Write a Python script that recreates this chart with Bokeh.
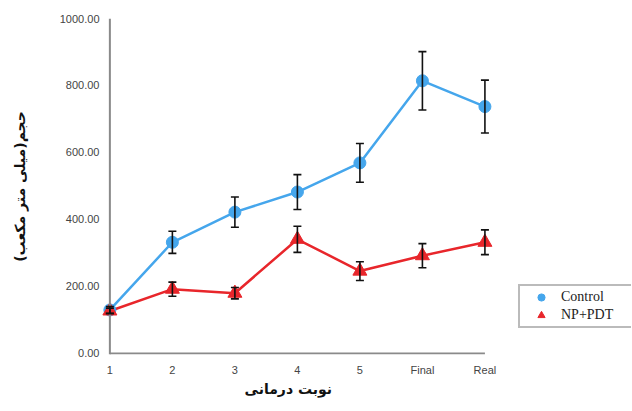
from bokeh.plotting import figure
from bokeh.models import (ColumnDataSource, Whisker, TeeHead, FixedTicker, Span,
                          Legend, LegendItem, Range1d, NumeralTickFormatter, Title)
from bokeh.embed import file_html
from bokeh.resources import INLINE

# ---- data ----
sessions = [1, 2, 3, 4, 5, 6, 7]
session_labels = ["1", "2", "3", "4", "5", "Final", "Real"]
control_mean = [130, 332, 422, 482, 569, 814, 737]
control_err = [10, 33, 45, 52, 58, 87, 79]
nppdt_mean = [127, 192, 180, 341, 246, 292, 332]
nppdt_err = [8, 21, 17, 39, 28, 36, 37]
y_ticks = [0, 200, 400, 600, 800, 1000]

BLUE = "#45a6ec"
RED = "#e8262b"
AXIS_GRAY = "#8a8a8a"


def make_source(mean, err):
    return ColumnDataSource(data=dict(
        x=sessions, y=mean,
        upper=[m + e for m, e in zip(mean, err)],
        lower=[m - e for m, e in zip(mean, err)],
    ))


src_c = make_source(control_mean, control_err)
src_n = make_source(nppdt_mean, nppdt_err)

# frame extends to the right edge so the legend can sit beside the data area
p = figure(width=631, height=406, output_backend="svg", toolbar_location=None,
           x_range=Range1d(0.85, 9.345), y_range=Range1d(-3, 1000),
           min_border_left=100, min_border_right=0, min_border_top=18,
           min_border_bottom=52)
p.outline_line_color = None
p.xgrid.visible = False
p.ygrid.visible = False
p.background_fill_color = "white"
p.border_fill_color = "white"

for ax in (p.xaxis[0], p.yaxis[0]):
    ax.axis_line_color = None
    ax.major_tick_line_color = None
    ax.minor_tick_line_color = None
    ax.major_tick_in = 0
    ax.major_tick_out = 0
    ax.major_label_text_font = "Liberation Sans"
    ax.major_label_text_font_size = "11px"
    ax.major_label_text_color = "#444444"
    ax.axis_label_text_font = "DejaVu Sans"
    ax.axis_label_text_font_style = "bold"
    ax.axis_label_text_color = "#111111"

p.xaxis.ticker = FixedTicker(ticks=sessions)
p.xaxis.major_label_overrides = {s: l for s, l in zip(sessions, session_labels)}
p.xaxis.major_label_standoff = 9

p.yaxis.ticker = FixedTicker(ticks=y_ticks)
p.yaxis.formatter = NumeralTickFormatter(format="0.00")
p.yaxis.major_label_standoff = 1
p.yaxis.axis_label = "حجم(میلی متر مکعب)"
p.yaxis.axis_label_text_font_size = "14px"
p.yaxis.axis_label_standoff = 29

# x axis title, placed under the data area
p.add_layout(Title(text="نوبت درمانی", align="left", offset=144, standoff=0,
                   text_font="DejaVu Sans", text_font_style="bold",
                   text_font_size="14px", text_color="#111111"), "below")

# axis lines
p.add_layout(Span(location=sessions[0], dimension="height", line_color=AXIS_GRAY, line_width=2))
p.segment(x0=[sessions[0]], y0=[y_ticks[0]], x1=[sessions[-1]], y1=[y_ticks[0]],
          line_color=AXIS_GRAY, line_width=2)

# lines
p.line("x", "y", source=src_c, line_color=BLUE, line_width=2.5)
p.line("x", "y", source=src_n, line_color=RED, line_width=2.5)

# markers
sc_c = p.scatter("x", "y", source=src_c, marker="circle", size=12,
                 fill_color=BLUE, line_color=BLUE)
sc_n = p.scatter("x", "y", source=src_n, marker="triangle", size=14,
                 fill_color=RED, line_color=RED)

# error bars
for src in (src_c, src_n):
    w = Whisker(source=src, base="x", upper="upper", lower="lower",
                line_color="#111111", line_width=1.6, level="overlay",
                upper_head=TeeHead(size=8, line_color="#111111", line_width=1.6),
                lower_head=TeeHead(size=8, line_color="#111111", line_width=1.6))
    p.add_layout(w)

legend = Legend(items=[LegendItem(label="Control", renderers=[sc_c]),
                       LegendItem(label="NP+PDT", renderers=[sc_n])],
                location=(418, 26), orientation="vertical",
                label_text_font="Liberation Serif", label_text_font_size="14px",
                label_text_color="#222222",
                glyph_width=38, glyph_height=18, label_height=18, label_width=82,
                label_standoff=1, spacing=0, padding=2, margin=0,
                border_line_color="#777777", border_line_width=2,
                background_fill_color="white", background_fill_alpha=1.0)
p.add_layout(legend, "center")

open("out.html", "w").write(file_html(p, INLINE))
